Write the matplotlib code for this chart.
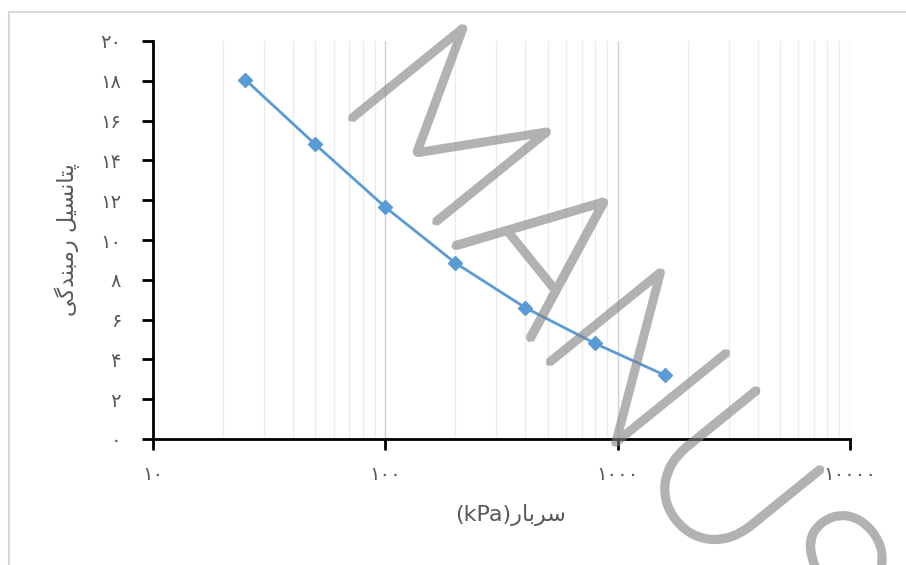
#!/usr/bin/env python3
"""Collapse potential vs. surcharge (log scale), Persian labels."""
import matplotlib
matplotlib.use("Agg")
import matplotlib.pyplot as plt
import matplotlib.patheffects as pe
from matplotlib.patches import Rectangle
from matplotlib.ticker import FixedLocator, LogLocator, NullFormatter

# data
surcharge_kpa = [25, 50, 100, 200, 400, 800, 1600]
collapse_potential = [18.05, 14.8, 11.65, 8.85, 6.6, 4.8, 3.2]

y_ticks = list(range(0, 21, 2))
x_ticks = [10, 100, 1000, 10000]

FA_DIGITS = str.maketrans("0123456789", "\u06f0\u06f1\u06f2\u06f3\u06f4\u06f5\u06f6\u06f7\u06f8\u06f9")


def fa(n):
    return str(n).translate(FA_DIGITS)


# matplotlib has no Arabic shaping: presentation forms, logical order, reversed for display
YLABEL_FORMS = "\ufb58\ufe98\ufe8e\ufee7\ufeb4\ufbff\ufede \ufead\ufee3\ufe92\ufee8\ufeaa\ufb94\ufbfd"  # پتانسیل رمبندگی
XLABEL_FORMS = "\ufeb3\ufeae\ufe91\ufe8e\ufead"  # سربار
y_label = YLABEL_FORMS[::-1]
x_label = "(kPa)" + XLABEL_FORMS[::-1]

TEXT_GRAY = "#595959"
BLUE = "#5b9bd5"

plt.rcParams["font.family"] = ["DejaVu Sans"]

fig = plt.figure(figsize=(9.06, 5.65), dpi=100)
ax = fig.add_axes([153 / 906, 1 - 439 / 565, (850 - 153) / 906, (439 - 41) / 565])

# light chart-area border (only top/left visible in the crop)
fig.patches.append(Rectangle((9 / 906, -0.1), 1.2, 1 - 12 / 565 + 0.1,
                             transform=fig.transFigure, fill=False,
                             edgecolor="#d9d9d9", linewidth=1.5, zorder=0))

ax.plot(surcharge_kpa, collapse_potential, color=BLUE, linewidth=2,
        marker="D", markersize=7.5, markerfacecolor=BLUE, markeredgecolor=BLUE, zorder=3)

ax.set_xscale("log")
ax.set_xlim(10, 10000)
ax.set_ylim(0, 20)

ax.xaxis.set_major_locator(FixedLocator(x_ticks))
ax.set_xticklabels([fa(v) for v in x_ticks])
ax.xaxis.set_minor_locator(LogLocator(base=10, subs=range(2, 10)))
ax.xaxis.set_minor_formatter(NullFormatter())
ax.set_yticks(y_ticks)
ax.set_yticklabels([fa(v) for v in y_ticks])

ax.grid(which="major", axis="x", color="#d0d0d0", linewidth=1)
ax.grid(which="minor", axis="x", color="#ebebeb", linewidth=1)
ax.set_axisbelow(True)

for side in ("top", "right"):
    ax.spines[side].set_visible(False)
for side in ("left", "bottom"):
    ax.spines[side].set_linewidth(2)
    ax.spines[side].set_color("black")

ax.tick_params(axis="both", which="major", direction="out", length=8, width=2,
               color="black", labelcolor=TEXT_GRAY, labelsize=14)
ax.tick_params(axis="y", pad=15)
ax.tick_params(axis="x", pad=11)
ax.tick_params(axis="x", which="minor", length=0)

ax.set_ylabel(y_label, color=TEXT_GRAY, fontsize=16, labelpad=14)
ax.set_xlabel(x_label, color=TEXT_GRAY, fontsize=16, labelpad=14)
ax.xaxis.label.set_x(0.513)

# "ACCEPTED MANUSCRIPT" watermark, only the visible part.
# hairline face, transparent fill, stroked wide -> even mid-weight strokes
fig.text(336 / 906, 1 - 99 / 565, "MANUSCRIPT", family="Lato", fontweight="light",
         fontsize=148, color=(0, 0, 0, 0), rotation=-51, rotation_mode="anchor",
         ha="left", va="baseline", zorder=10,
         path_effects=[pe.Stroke(linewidth=5, foreground=(0.5, 0.5, 0.5, 0.6),
                                 joinstyle="bevel", capstyle="butt")])

fig.savefig("out.png", dpi=100)
